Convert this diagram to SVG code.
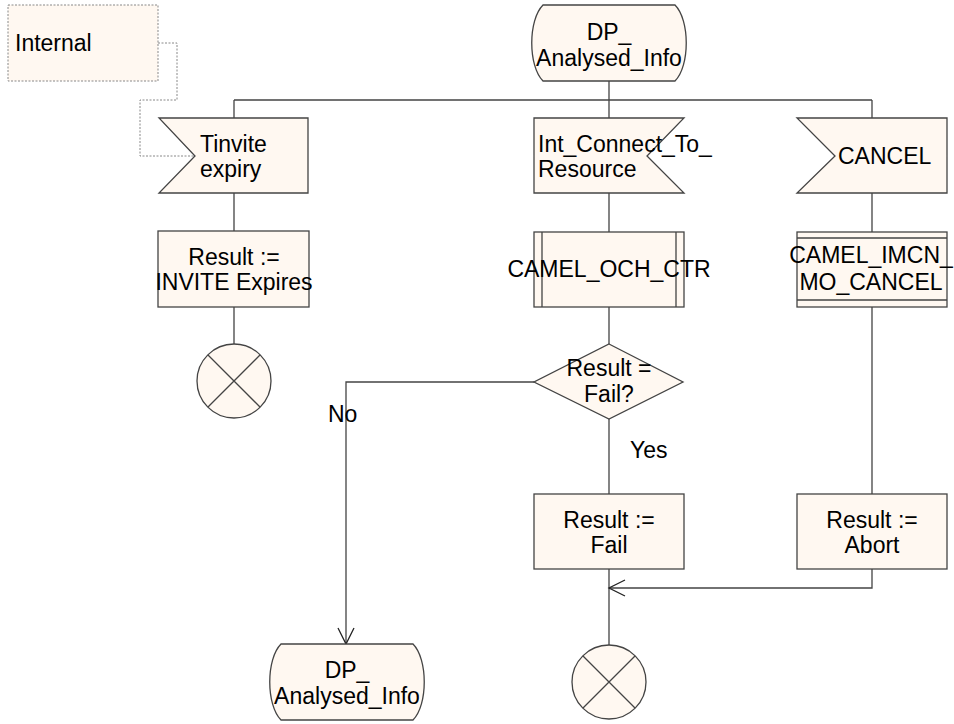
<svg xmlns="http://www.w3.org/2000/svg" width="954" height="724" viewBox="0 0 954 724">
<style>
.s{fill:#FFF8F1;stroke:#444;stroke-width:1.3}
.l{fill:none;stroke:#444;stroke-width:1.3}
.d{fill:none;stroke:#888;stroke-width:1;stroke-dasharray:2,1.5}
.t{font-family:"Liberation Sans",Arial,sans-serif;font-size:23px;fill:#000}
.c{text-anchor:middle}
</style>
<defs>
<marker id="a" viewBox="0 0 20 20" refX="18" refY="10" markerWidth="20" markerHeight="20" markerUnits="userSpaceOnUse" orient="auto">
<path d="M2,2 L18,10 L2,18" fill="none" stroke="#222" stroke-width="1.3"/>
</marker>
</defs>
<g id="connectors">
<path class="d" d="M158,43 H177 V100 H140 V156 H195"/>
<path class="l" d="M609,81 V100 M234,100 H872 M234,100 V118 M609,100 V118 M872,100 V118"/>
<path class="l" d="M234,193 V231 M234,307 V344"/>
<path class="l" d="M609,193 V232 M609,307 V344 M609,419 V494 M609,569 V645"/>
<path class="l" d="M872,193 V232 M872,307 V494"/>
<path class="l" d="M534,382 H346 V644" marker-end="url(#a)"/>
<path class="l" d="M872,569 V588 H609" marker-end="url(#a)"/>
<text class="t" x="328" y="422">No</text>
<text class="t" x="630" y="458">Yes</text>
</g>
<g id="internal">
<rect x="8" y="5" width="150" height="76" fill="#FFF8F1" stroke="#888" stroke-width="1" stroke-dasharray="2,1.5"/>
<text class="t" x="15" y="51">Internal</text>
</g>
<g id="dp_top">
<path class="s" d="M543,5 H675 C690,20 690,66 675,81 H543 C528,66 528,20 543,5 Z"/>
<text class="t c" x="609" y="40">DP_</text>
<text class="t c" x="609" y="66">Analysed_Info</text>
</g>
<g id="tinvite">
<path class="s" d="M159,118 H308 V193 H159 L195,156 Z"/>
<text class="t" x="200" y="152">Tinvite</text>
<text class="t" x="200" y="177">expiry</text>
</g>
<g id="intconnect">
<path class="s" d="M534,118 H684 L647,156 L684,193 H534 Z"/>
<text class="t" x="538" y="152">Int_Connect_To_</text>
<text class="t" x="538" y="177">Resource</text>
</g>
<g id="cancel">
<path class="s" d="M797,118 H947 V193 H797 L835,156 Z"/>
<text class="t" x="838" y="164">CANCEL</text>
</g>
<g id="result_invite">
<rect class="s" x="158" y="231" width="151" height="76"/>
<text class="t c" x="234" y="265">Result :=</text>
<text class="t c" x="234" y="290">INVITE Expires</text>
</g>
<g id="stop1">
<circle class="s" cx="234" cy="381" r="37"/>
<path class="l" d="M208,355 L260,407 M260,355 L208,407"/>
</g>
<g id="och_ctr">
<rect class="s" x="534" y="232" width="150" height="75"/>
<path class="l" d="M542,232 V307 M676,232 V307"/>
<text class="t c" x="609" y="277">CAMEL_OCH_CTR</text>
</g>
<g id="imcn_cancel">
<rect class="s" x="797" y="232" width="150" height="75"/>
<path class="l" d="M797,238 H947 M797,300 H947"/>
<text class="t c" x="871" y="263">CAMEL_IMCN_</text>
<text class="t c" x="871" y="290">MO_CANCEL</text>
</g>
<g id="decision">
<path class="s" d="M609,344 L683,382 L609,419 L534,382 Z"/>
<text class="t c" x="609" y="376">Result =</text>
<text class="t c" x="609" y="402">Fail?</text>
</g>
<g id="result_fail">
<rect class="s" x="534" y="494" width="150" height="75"/>
<text class="t c" x="609" y="528">Result :=</text>
<text class="t c" x="609" y="553">Fail</text>
</g>
<g id="result_abort">
<rect class="s" x="797" y="494" width="150" height="75"/>
<text class="t c" x="872" y="528">Result :=</text>
<text class="t c" x="872" y="553">Abort</text>
</g>
<g id="dp_bottom">
<path class="s" d="M281,644 H413 C428,659 428,705 413,720 H281 C266,705 266,659 281,644 Z"/>
<text class="t c" x="347" y="678">DP_</text>
<text class="t c" x="347" y="704">Analysed_Info</text>
</g>
<g id="stop2">
<circle class="s" cx="609" cy="682" r="37"/>
<path class="l" d="M583,656 L635,708 M635,656 L583,708"/>
</g>
</svg>
